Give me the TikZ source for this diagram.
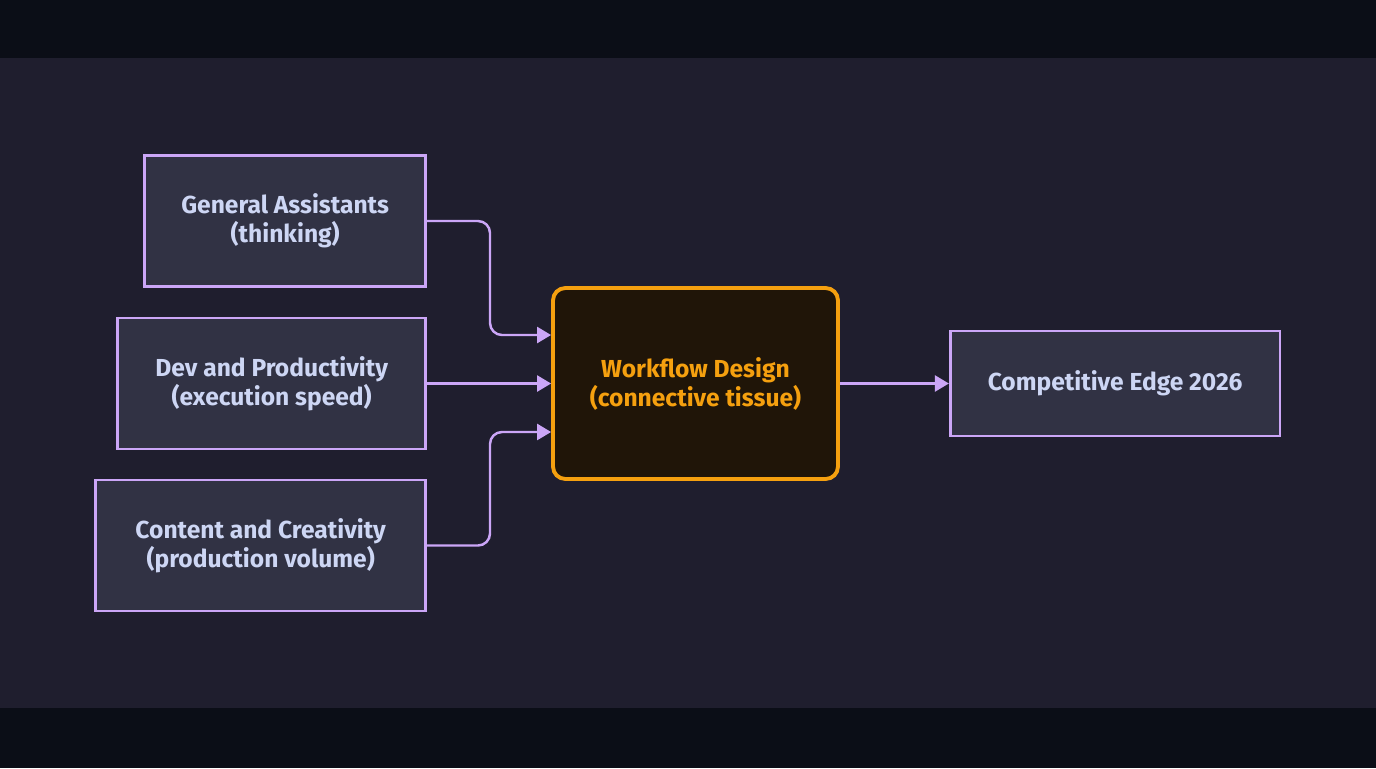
\documentclass[tikz,border=0pt]{standalone}
\usepackage{fontspec}
\setmainfont{Fira Sans}
\usepackage{tikz}
\usetikzlibrary{positioning,arrows.meta,backgrounds}
\definecolor{bandnavy}{HTML}{0B0E17}
\definecolor{canvasdark}{HTML}{1F1E2E}
\definecolor{boxfill}{HTML}{313244}
\definecolor{boxmauve}{HTML}{CBA6F7}
\definecolor{boxtext}{HTML}{CDD6F4}
\definecolor{hubfill}{HTML}{201508}
\definecolor{hubamber}{HTML}{F5A00F}

\begin{document}
\begin{tikzpicture}[
    x=0.02cm,y=-0.02cm,
    every node/.style={font=\fontsize{14}{16.5}\selectfont\bfseries},
    source/.style={rectangle,draw=boxmauve,line width=1.5pt,fill=boxfill,
      text=boxtext,align=center,minimum height=2.62cm,inner sep=2pt},
    hub/.style={rectangle,rounded corners=7pt,draw=hubamber,line width=2.2pt,
      fill=hubfill,text=hubamber,align=center,minimum width=5.7cm,minimum height=3.82cm},
    goal/.style={source,minimum width=6.6cm,minimum height=2.1cm},
    link/.style={-{Triangle[length=0.28cm,width=0.32cm]},line width=1.4pt,boxmauve,rounded corners=0.24cm},
  ]
  % canvas
  \fill[bandnavy] (0,0) rectangle (1376,768);
  \fill[canvasdark] (0,58) rectangle (1376,708);
  % inputs
  \node[source,minimum width=5.62cm,anchor=east] (ga) at (427,221) {General Assistants\\(thinking)};
  \node[source,minimum width=6.16cm,anchor=east] (dev) at (427,383.5) {Dev and Productivity\\(execution speed)};
  \node[source,minimum width=6.6cm,anchor=east] (cc) at (427,545.5) {Content and Creativity\\(production volume)};
  % hub and goal
  \node[hub] (wf) at (695.5,383.5) {Workflow Design\\(connective tissue)};
  \node[goal,right=2.18cm of wf] (edge) {Competitive Edge 2026};
  \draw[link] (ga.east) -- ++(63,0) |- ([yshift=0.97cm]wf.west);
  \draw[link] (dev) -- (wf);
  \draw[link] (cc.east) -- ++(63,0) |- ([yshift=-0.97cm]wf.west);
  \draw[link] (wf) -- (edge);
\end{tikzpicture}
\end{document}
